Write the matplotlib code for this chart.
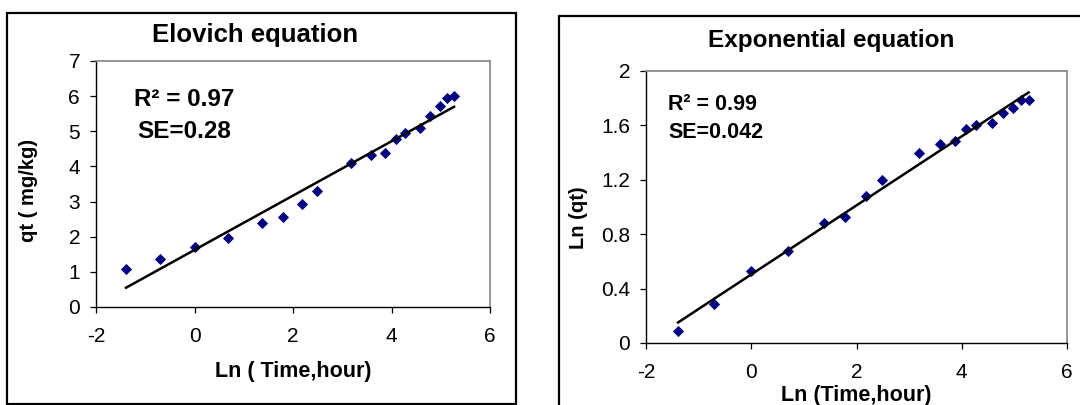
import numpy as np
import matplotlib
matplotlib.use("Agg")
import matplotlib.pyplot as plt
from matplotlib.patches import Rectangle

plt.rcParams['font.family'] = ['Liberation Sans', 'DejaVu Sans']
plt.rcParams['axes.unicode_minus'] = False

# ---- data ----
ln_time = [-1.39, -0.70, 0.00, 0.69, 1.38, 1.79, 2.19, 2.49, 3.18,
           3.58, 3.87, 4.09, 4.27, 4.57, 4.79, 4.98, 5.13, 5.27]
qt = [1.09, 1.36, 1.72, 1.96, 2.40, 2.56, 2.92, 3.30, 4.09,
      4.33, 4.39, 4.78, 4.95, 5.08, 5.44, 5.71, 5.95, 5.99]
ln_qt = [0.09, 0.29, 0.53, 0.68, 0.88, 0.93, 1.08, 1.20, 1.40,
         1.46, 1.485, 1.57, 1.60, 1.62, 1.69, 1.73, 1.79, 1.79]

x_ticks = [-2, 0, 2, 4, 6]
left_yticks = [0, 1, 2, 3, 4, 5, 6, 7]
right_yticks = [0, 0.4, 0.8, 1.2, 1.6, 2]
right_yticklabels = ['0', '0.4', '0.8', '1.2', '1.6', '2']

left_title = "Elovich equation"
right_title = "Exponential equation"
left_stats = ["R\u00b2 = 0.97", "SE=0.28"]
right_stats = ["R\u00b2 = 0.99", "SE=0.042"]

W, H = 1080, 405
fig = plt.figure(figsize=(W / 100, H / 100), dpi=100)


def fx(px):
    return px / W


def fy(py):
    return 1 - py / H


def style_axes(ax):
    for s in ['left', 'bottom']:
        ax.spines[s].set_color('black')
        ax.spines[s].set_linewidth(1.0)
    for s in ['top', 'right']:
        ax.spines[s].set_color('#8c8c8c')
        ax.spines[s].set_linewidth(1.3)
    ax.tick_params(direction='out', length=4.5, width=0.9, color='black',
                   labelsize=15)
    ax.tick_params(axis='x', pad=10)
    ax.tick_params(axis='y', pad=7)


MS = 5.6

# ---- outer frames ----
fig.patches.append(Rectangle((fx(7), fy(404)), fx(509), fy(13) - fy(404),
                             transform=fig.transFigure, fill=False,
                             edgecolor='black', linewidth=1.6))
fig.patches.append(Rectangle((fx(559), fy(460)), fx(600), fy(16) - fy(460),
                             transform=fig.transFigure, fill=False,
                             edgecolor='black', linewidth=1.6))

# ---- left: Elovich ----
axL = fig.add_axes([fx(96), fy(307), fx(490) - fx(96), fy(61) - fy(307)])
x = np.array(ln_time)
y = np.array(qt)
axL.plot(x, y, linestyle='none', marker='D', markersize=MS,
         markeredgewidth=0.6, color='#000080', zorder=3)
p = np.polyfit(x, y, 1)
xl = np.array([x.min(), x.max()])
axL.plot(xl, np.polyval(p, xl), color='black', linewidth=1.8, zorder=4)
axL.set_xlim(-2, 6)
axL.set_ylim(0, 7)
axL.set_xticks(x_ticks)
axL.set_yticks(left_yticks)
style_axes(axL)

fig.text(fx(255), fy(35), left_title, ha='center', va='center',
         fontsize=18.5, fontweight='bold')
fig.text(fx(184), fy(100), left_stats[0], ha='center', va='center',
         fontsize=17.5, fontweight='bold')
fig.text(fx(184), fy(131), left_stats[1], ha='center', va='center',
         fontsize=17.5, fontweight='bold')
fig.text(fx(293), fy(371), "Ln ( Time,hour)", ha='center', va='center',
         fontsize=15.5, fontweight='bold')
fig.text(fx(29), fy(190), "qt ( mg/kg)", ha='center', va='center',
         rotation=90, fontsize=14.5, fontweight='bold')

# ---- right: Exponential ----
axR = fig.add_axes([fx(646), fy(343), fx(1067) - fx(646), fy(71) - fy(343)])
y2 = np.array(ln_qt)
axR.plot(x, y2, linestyle='none', marker='D', markersize=MS,
         markeredgewidth=0.6, color='#000080', zorder=3)
p2 = np.polyfit(x, y2, 1)
axR.plot(xl, np.polyval(p2, xl), color='black', linewidth=1.8, zorder=4)
axR.set_xlim(-2, 6)
axR.set_ylim(0, 2)
axR.set_xticks(x_ticks)
axR.set_yticks(right_yticks)
axR.set_yticklabels(right_yticklabels)
style_axes(axR)

fig.text(fx(831), fy(41), right_title, ha='center', va='center',
         fontsize=17.5, fontweight='bold')
fig.text(fx(668), fy(104), right_stats[0], ha='left', va='center',
         fontsize=15.5, fontweight='bold')
fig.text(fx(668), fy(132), right_stats[1], ha='left', va='center',
         fontsize=15.5, fontweight='bold')
fig.text(fx(856), fy(395), "Ln (Time,hour)", ha='center', va='center',
         fontsize=15.5, fontweight='bold')
fig.text(fx(578), fy(218), "Ln (qt)", ha='center', va='center',
         rotation=90, fontsize=14.5, fontweight='bold')

fig.savefig("out.png", dpi=100)
